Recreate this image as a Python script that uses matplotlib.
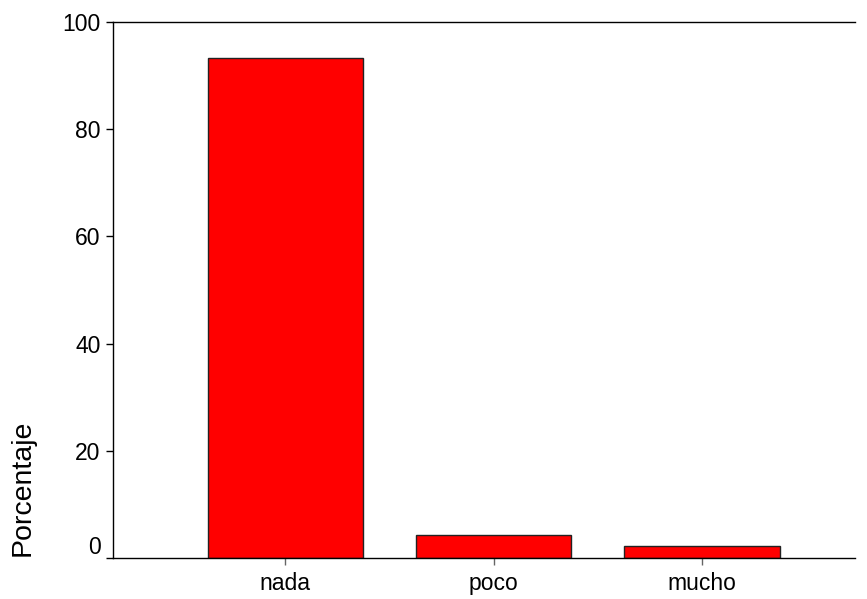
import matplotlib.pyplot as plt
import matplotlib.transforms as mtransforms

plt.rcParams["font.family"] = ["Liberation Sans", "DejaVu Sans"]

categories = ["nada", "poco", "mucho"]
percent = [93.2, 4.3, 2.2]
yticks = [0, 20, 40, 60, 80, 100]

fig = plt.figure(figsize=(8.67, 5.99), dpi=100)
ax = fig.add_axes([113 / 867, 41 / 599, 742 / 867, 536 / 599])

x = range(len(categories))
ax.bar(x, percent, width=0.745, color="#ff0000", edgecolor="#222222", linewidth=1.0)

ax.set_xlim(-0.827, 2.734)
ax.set_ylim(0, 100)
ax.set_xticks(list(x))
ax.set_xticklabels(categories)
ax.set_yticks(yticks)
ax.set_yticklabels([str(v) for v in yticks])

ax.spines["right"].set_visible(False)
for s in ["left", "bottom", "top"]:
    ax.spines[s].set_linewidth(1.0)

ax.tick_params(axis="y", direction="out", length=5, width=1, labelsize=16.5, pad=4)
ax.tick_params(axis="x", direction="out", length=5, width=1, color="#666666", labelsize=16.5, pad=5)

# the zero label sits a little above the axis line
lab0 = ax.yaxis.get_major_ticks()[0].label1
lab0.set_transform(lab0.get_transform() + mtransforms.ScaledTranslation(0, 13 / 100, fig.dpi_scale_trans))

fig.text(23 / 867, 1 - 488 / 599, "Porcentaje", rotation=90, ha="center", va="center", fontsize=20.5)

fig.savefig("out.png", dpi=100)
